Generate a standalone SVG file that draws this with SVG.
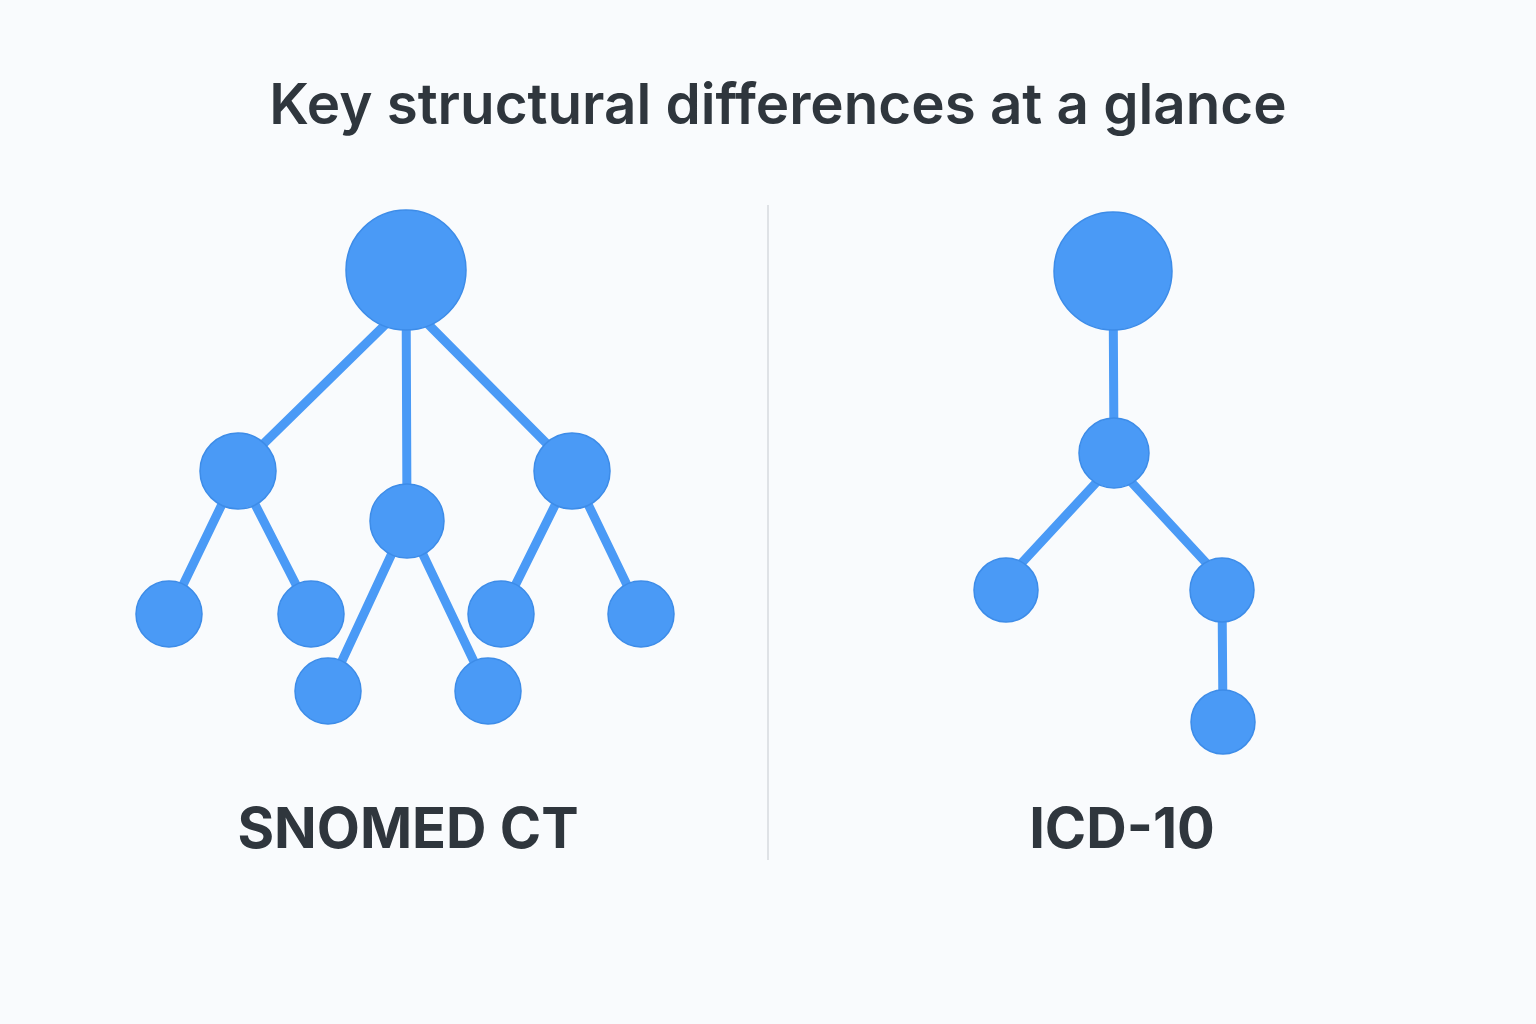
<svg xmlns="http://www.w3.org/2000/svg" width="1536" height="1024" viewBox="0 0 1536 1024">
<style>
.n{fill:#4a9af6;stroke:#3d8ce8;stroke-width:1.5}
.e{stroke:#4a9af6;stroke-width:9;stroke-linecap:round}
.t{font-family:Inter,"Liberation Sans",sans-serif;fill:#2f363d;text-anchor:middle}
</style>
<rect width="1536" height="1024" fill="#f9fbfd"/>
<text class="t" x="778" y="124" font-size="56.5" font-weight="600">Key structural differences at a glance</text>
<line x1="768" y1="205" x2="768" y2="860" stroke="#dfe2e6" stroke-width="2"/>
<g id="connectors">
<line class="e" x1="392" y1="318" x2="250" y2="457"/>
<line class="e" x1="406" y1="270" x2="407" y2="521"/>
<line class="e" x1="422" y1="318" x2="560" y2="457"/>
<line class="e" x1="238" y1="471" x2="169" y2="614"/>
<line class="e" x1="238" y1="471" x2="311" y2="614"/>
<line class="e" x1="407" y1="521" x2="328" y2="691"/>
<line class="e" x1="407" y1="521" x2="488" y2="691"/>
<line class="e" x1="572" y1="471" x2="501" y2="614"/>
<line class="e" x1="572" y1="471" x2="641" y2="614"/>
<line class="e" x1="1113" y1="271" x2="1114" y2="453"/>
<line class="e" x1="1106" y1="472" x2="1006" y2="580"/>
<line class="e" x1="1122" y1="472" x2="1222" y2="580"/>
<line class="e" x1="1222" y1="590" x2="1223" y2="722"/>
</g>
<g id="s-root"><circle class="n" cx="406" cy="270" r="60"/></g>
<g id="s-a"><circle class="n" cx="238" cy="471" r="38"/></g>
<g id="s-b"><circle class="n" cx="407" cy="521" r="37"/></g>
<g id="s-c"><circle class="n" cx="572" cy="471" r="38"/></g>
<g id="s-a1"><circle class="n" cx="169" cy="614" r="33"/></g>
<g id="s-a2"><circle class="n" cx="311" cy="614" r="33"/></g>
<g id="s-b1"><circle class="n" cx="328" cy="691" r="33"/></g>
<g id="s-b2"><circle class="n" cx="488" cy="691" r="33"/></g>
<g id="s-c1"><circle class="n" cx="501" cy="614" r="33"/></g>
<g id="s-c2"><circle class="n" cx="641" cy="614" r="33"/></g>
<g id="i-root"><circle class="n" cx="1113" cy="271" r="59"/></g>
<g id="i-a"><circle class="n" cx="1114" cy="453" r="35"/></g>
<g id="i-b1"><circle class="n" cx="1006" cy="590" r="32"/></g>
<g id="i-b2"><circle class="n" cx="1222" cy="590" r="32"/></g>
<g id="i-c"><circle class="n" cx="1223" cy="722" r="32"/></g>
<text class="t" x="408" y="848" font-size="56" font-weight="700">SNOMED CT</text>
<text class="t" x="1122" y="848" font-size="56" font-weight="700">ICD-10</text>
</svg>
